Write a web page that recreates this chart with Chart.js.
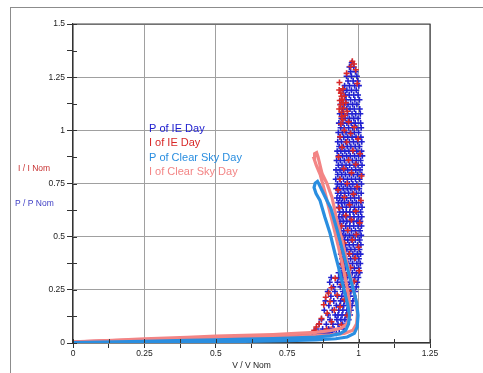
<!DOCTYPE html>
<html lang="en">
<head>
<meta charset="UTF-8">
<title>I / P vs V (normalised)</title>
<script src="https://cdn.jsdelivr.net/npm/chart.js@4.4.0/dist/chart.umd.min.js"></script>
<style>
    body { margin: 0; background: #fff; }
    #frame { position: absolute; left: 10px; top: 7px; width: 480px; height: 380px;
             border-top: 1px solid #8c8c8c; border-left: 1px solid #8c8c8c; }
    #wrap { position: absolute; left: 0; top: 0; }
</style>
</head>
<body>
<div id="frame"></div>
<div id="wrap"><canvas id="chart" width="483" height="373"></canvas></div>
<script>
// series names and colours
const seriesNames = ["P of IE Day", "I of IE Day", "P of Clear Sky Day", "I of Clear Sky Day"];
const seriesColors = ["#2020d0", "#d82828", "#2a8ee0", "#f38585"];

// clear sky day, one loop each (morning up, afternoon down)
const clearSkyP = [
    [0.00,0.002],[0.10,0.004],[0.25,0.008],[0.40,0.012],[0.50,0.015],[0.60,0.018],[0.70,0.021],
    [0.78,0.024],[0.85,0.028],[0.90,0.034],[0.935,0.044],[0.955,0.060],[0.965,0.090],[0.968,0.130],
    [0.962,0.180],[0.952,0.234],[0.935,0.328],[0.917,0.422],[0.900,0.516],[0.882,0.591],[0.865,0.670],
    [0.851,0.703],[0.844,0.731],[0.848,0.752],[0.856,0.760],[0.862,0.745],[0.872,0.717],[0.889,0.670],
    [0.903,0.633],[0.925,0.530],[0.945,0.430],[0.965,0.330],[0.982,0.250],[0.993,0.190],[0.998,0.130],
    [0.995,0.075],[0.985,0.045],[0.960,0.028],[0.920,0.020],[0.850,0.014],[0.750,0.011],[0.600,0.008],
    [0.400,0.005],[0.200,0.002],[0.000,0.000]
];
const clearSkyI = [
    [0.00,0.005],[0.10,0.010],[0.25,0.020],[0.40,0.027],[0.50,0.032],[0.60,0.036],[0.70,0.040],
    [0.78,0.045],[0.85,0.050],[0.90,0.058],[0.94,0.070],[0.96,0.090],[0.97,0.130],[0.968,0.190],
    [0.960,0.260],[0.945,0.360],[0.928,0.460],[0.910,0.560],[0.895,0.640],[0.880,0.720],[0.866,0.790],
    [0.852,0.835],[0.844,0.867],[0.846,0.890],[0.853,0.895],[0.858,0.875],[0.872,0.797],[0.889,0.750],
    [0.907,0.684],[0.924,0.577],[0.945,0.469],[0.963,0.356],[0.980,0.263],[0.991,0.200],[0.996,0.140],
    [0.993,0.090],[0.980,0.060],[0.950,0.045],[0.900,0.038],[0.800,0.030],[0.600,0.022],[0.400,0.015],
    [0.200,0.008],[0.000,0.003]
];

// IE day, low-voltage tail near the origin
const ieTailP = [[0,0.002],[0.10,0.004],[0.25,0.007],[0.40,0.010],[0.50,0.013],[0.60,0.016],
    [0.70,0.020],[0.78,0.025],[0.84,0.032],[0.88,0.042],[0.91,0.055]];
const ieTailI = [[0,0.005],[0.10,0.010],[0.25,0.015],[0.40,0.020],[0.50,0.025],[0.60,0.029],
    [0.70,0.034],[0.78,0.039],[0.84,0.047],[0.88,0.058],[0.91,0.075]];

// IE day power cloud, rows of [P, [V values]]
const iePRows = [
    [1.318,[0.976]],
    [1.298,[0.968,0.983]],
    [1.276,[0.972,0.989]],
    [1.254,[0.958,0.975,0.994]],
    [1.232,[0.963,0.981,0.997]],
    [1.210,[0.951,0.968,0.986,1.001]],
    [1.188,[0.946,0.959,0.975,0.992]],
    [1.166,[0.953,0.967,0.983,0.998]],
    [1.144,[0.941,0.956,0.972,0.987,1.003]],
    [1.122,[0.937,0.949,0.963,0.979,0.994]],
    [1.100,[0.943,0.958,0.970,0.985,1.004]],
    [1.078,[0.934,0.947,0.962,0.977,0.990,1.006]],
    [1.056,[0.940,0.953,0.968,0.983,0.998]],
    [1.034,[0.931,0.945,0.959,0.974,0.988,1.007]],
    [1.012,[0.937,0.950,0.965,0.979,0.994,1.009]],
    [0.990,[0.929,0.943,0.956,0.971,0.985,1.000]],
    [0.968,[0.935,0.948,0.962,0.977,0.991,1.008]],
    [0.946,[0.927,0.940,0.954,0.968,0.982,0.996,1.011]],
    [0.924,[0.932,0.946,0.960,0.973,0.988,1.003]],
    [0.902,[0.925,0.938,0.952,0.966,0.980,0.994,1.010]],
    [0.880,[0.930,0.944,0.958,0.971,0.986,1.000,1.013]],
    [0.858,[0.923,0.936,0.950,0.964,0.978,0.992,1.007]],
    [0.836,[0.929,0.942,0.956,0.969,0.984,0.998,1.012]],
    [0.814,[0.921,0.935,0.948,0.962,0.976,0.990,1.005]],
    [0.792,[0.927,0.941,0.954,0.968,0.982,0.996,1.011]],
    [0.770,[0.920,0.933,0.947,0.961,0.975,0.989,1.004]],
    [0.748,[0.926,0.939,0.953,0.967,0.980,0.994,1.010]],
    [0.726,[0.922,0.932,0.946,0.960,0.973,0.987,1.002]],
    [0.704,[0.927,0.938,0.952,0.965,0.979,0.993,1.009]],
    [0.682,[0.924,0.934,0.944,0.958,0.972,0.986,1.001]],
    [0.660,[0.929,0.940,0.951,0.964,0.978,0.992,1.008]],
    [0.638,[0.930,0.943,0.957,0.971,0.985,1.000,1.012]],
    [0.616,[0.934,0.946,0.957,0.969,0.981,0.993,1.007]],
    [0.594,[0.931,0.942,0.956,0.970,0.984,0.999,1.011]],
    [0.572,[0.935,0.947,0.959,0.970,0.982,0.994,1.006]],
    [0.550,[0.934,0.941,0.955,0.969,0.983,0.998,1.010]],
    [0.528,[0.938,0.948,0.961,0.975,0.989,1.005]],
    [0.506,[0.936,0.944,0.954,0.968,0.982,0.997,1.009]],
    [0.484,[0.940,0.950,0.962,0.974,0.988,1.004]],
    [0.462,[0.937,0.946,0.953,0.967,0.981,0.996,1.008]],
    [0.440,[0.941,0.951,0.959,0.973,0.987,1.003]],
    [0.418,[0.938,0.947,0.952,0.966,0.980,0.995,1.007]],
    [0.396,[0.942,0.951,0.958,0.972,0.986,1.001]],
    [0.374,[0.939,0.948,0.956,0.965,0.979,0.994,1.006]],
    [0.352,[0.943,0.953,0.962,0.971,0.985,1.000]],
    [0.330,[0.930,0.942,0.950,0.964,0.978,0.992,1.004]],
    [0.308,[0.904,0.931,0.945,0.959,0.973,0.987,0.999]],
    [0.286,[0.899,0.926,0.940,0.954,0.968,0.982,0.995]],
    [0.264,[0.912,0.936,0.950,0.964,0.978,0.992]],
    [0.242,[0.892,0.917,0.945,0.959,0.973,0.988]],
    [0.220,[0.903,0.927,0.941,0.955,0.969,0.984]],
    [0.198,[0.884,0.913,0.937,0.951,0.965,0.980]],
    [0.176,[0.896,0.922,0.934,0.948,0.962,0.977]],
    [0.154,[0.880,0.908,0.931,0.945,0.959,0.973]],
    [0.132,[0.893,0.918,0.928,0.942,0.956,0.970]],
    [0.110,[0.870,0.900,0.924,0.938,0.952,0.965]],
    [0.088,[0.862,0.887,0.910,0.928,0.944,0.958]],
    [0.066,[0.852,0.874,0.895,0.914,0.932,0.948]],
    [0.046,[0.838,0.860,0.882,0.902,0.922]]
];

// IE day current points (V, I)
const ieI = [
    [0.978,1.325],[0.984,1.312],[0.972,1.300],[0.990,1.285],[0.958,1.268],[0.933,1.225],[0.995,1.220],
    [0.945,1.195],[0.932,1.190],[0.938,1.175],[0.940,1.160],[0.950,1.160],[0.942,1.145],[0.934,1.140],
    [0.955,1.130],[0.946,1.130],[0.936,1.120],[0.947,1.105],[0.932,1.100],[0.960,1.090],[0.940,1.085],
    [0.952,1.070],[0.940,1.065],[0.944,1.050],[0.965,1.040],[0.938,1.030],[0.985,1.015],[0.950,1.000],
    [0.972,0.985],[0.935,0.970],[0.998,0.960],[0.958,0.945],[0.942,0.920],[0.980,0.905],[1.005,0.890],
    [0.930,0.875],[0.965,0.860],[0.990,0.840],[0.948,0.820],[0.975,0.800],[1.010,0.785],[0.935,0.770],
    [0.960,0.750],[0.995,0.735],[0.928,0.720],[0.982,0.700],[0.950,0.685],[1.008,0.670],[0.968,0.650],
    [0.932,0.635],[0.990,0.620],[0.955,0.600],[0.975,0.580],[1.004,0.565],[0.940,0.550],[0.962,0.530],
    [0.992,0.510],[0.936,0.500],[0.978,0.485],[0.950,0.470],[1.000,0.450],[0.940,0.435],[0.968,0.420],
    [0.988,0.400],[0.945,0.385],[0.940,0.370],[0.972,0.355],[1.002,0.340],[0.955,0.320],[0.918,0.305],
    [0.985,0.290],[0.940,0.275],[0.905,0.260],[0.965,0.245],[0.895,0.235],[0.925,0.225],[0.885,0.215],
    [0.950,0.205],[0.900,0.195],[0.878,0.180],[0.935,0.170],[0.915,0.155],[0.890,0.140],[0.960,0.130],
    [0.870,0.115],[0.905,0.100],[0.862,0.090],[0.940,0.085],[0.852,0.075],[0.888,0.065],[0.845,0.060]
];

const ieP = [];
iePRows.forEach(function (row) {
    row[1].forEach(function (v) { ieP.push({ x: v, y: row[0] }); });
});
const toXY = arr => arr.map(p => ({ x: p[0], y: p[1] }));

const font = "'Liberation Sans', Arial, sans-serif";
const fmt = function (v) {
    const r = Math.round(v * 1000);
    return r % 250 === 0 ? String(r / 1000) : "";
};
const isMajor = v => Math.round(v * 1000) % 250 === 0;

const overlay = {
    id: "overlay",
    afterDraw: function (chart) {
        const ctx = chart.ctx;
        const a = chart.chartArea;
        ctx.save();
        // plot frame
        ctx.strokeStyle = "#444";
        ctx.lineWidth = 1.2;
        ctx.beginPath();
        ctx.moveTo(a.left, a.top);
        ctx.lineTo(a.right, a.top);
        ctx.lineTo(a.right, a.bottom);
        ctx.stroke();
        // inner tick marks
        ctx.strokeStyle = "#333";
        ctx.lineWidth = 1;
        ctx.beginPath();
        chart.scales.x.ticks.forEach(function (t) {
            const px = Math.round(chart.scales.x.getPixelForValue(t.value)) + 0.5;
            ctx.moveTo(px, a.bottom);
            ctx.lineTo(px, a.bottom - 4);
        });
        chart.scales.y.ticks.forEach(function (t) {
            const py = Math.round(chart.scales.y.getPixelForValue(t.value)) + 0.5;
            ctx.moveTo(a.left, py);
            ctx.lineTo(a.left + 4, py);
        });
        ctx.stroke();
        // text legend
        ctx.font = "11px " + font;
        ctx.textBaseline = "middle";
        ctx.textAlign = "left";
        const rows = [129, 143, 158, 172];
        seriesNames.forEach(function (name, i) {
            ctx.fillStyle = seriesColors[i];
            ctx.fillText(name, 149, rows[i]);
        });
        // side labels
        ctx.font = "8.5px " + font;
        ctx.fillStyle = "#c83232";
        ctx.fillText("I / I Nom", 18, 169);
        ctx.fillStyle = "#3c3cc4";
        ctx.fillText("P / P Nom", 15, 204);
        ctx.restore();
    }
};

const crossStyle = {
    pointStyle: "cross",
    pointRadius: 3,
    pointBorderWidth: 1.6,
    showLine: false
};

new Chart(document.getElementById("chart"), {
    type: "scatter",
    data: {
        datasets: [
            { label: seriesNames[2], data: toXY(clearSkyP), showLine: true, borderColor: seriesColors[2],
              borderWidth: 3.2, pointRadius: 0 },
            { label: seriesNames[3], data: toXY(clearSkyI), showLine: true, borderColor: seriesColors[3],
              borderWidth: 3.2, pointRadius: 0 },
            Object.assign({ label: seriesNames[1], data: toXY(ieI), borderColor: seriesColors[1],
              backgroundColor: seriesColors[1] }, crossStyle),
            Object.assign({ label: seriesNames[0], data: ieP, borderColor: seriesColors[0],
              backgroundColor: seriesColors[0] }, crossStyle),
            { label: "I tail", data: toXY(ieTailI), showLine: true, borderColor: "rgba(224,70,90,0.85)",
              borderWidth: 3, pointRadius: 0 },
            { label: "P tail", data: toXY(ieTailP), showLine: true, borderColor: seriesColors[0],
              borderWidth: 3, pointRadius: 0 }
        ]
    },
    options: {
        responsive: false,
        animation: false,
        layout: { padding: { top: 24, right: 53, left: 0, bottom: 0 } },
        plugins: { legend: { display: false }, tooltip: { enabled: false } },
        scales: {
            x: {
                type: "linear", min: 0, max: 1.25,
                afterFit: function (s) { s.height = 30; },
                ticks: { stepSize: 0.125, autoSkip: false, maxRotation: 0, padding: 1,
                         color: "#222", font: { family: font, size: 8.5 }, callback: fmt },
                grid: { color: c => (c.tick && isMajor(c.tick.value)) ? "#a0a0a0" : "rgba(0,0,0,0)",
                        tickColor: "#333", tickLength: 5, lineWidth: 1 },
                border: { color: "#333", width: 1.2 },
                title: { display: true, text: "V / V Nom", color: "#222",
                         font: { family: font, size: 8.5 }, padding: { top: 0, bottom: 2 } }
            },
            y: {
                type: "linear", min: 0, max: 1.5,
                afterFit: function (s) { s.width = 73; },
                ticks: { stepSize: 0.125, autoSkip: false, padding: 2,
                         color: "#222", font: { family: font, size: 8.5 }, callback: fmt },
                grid: { color: c => (c.tick && isMajor(c.tick.value)) ? "#a0a0a0" : "rgba(0,0,0,0)",
                        tickColor: "#333", tickLength: 6, lineWidth: 1 },
                border: { color: "#333", width: 1.2 }
            }
        }
    },
    plugins: [overlay]
});
</script>
</body>
</html>
